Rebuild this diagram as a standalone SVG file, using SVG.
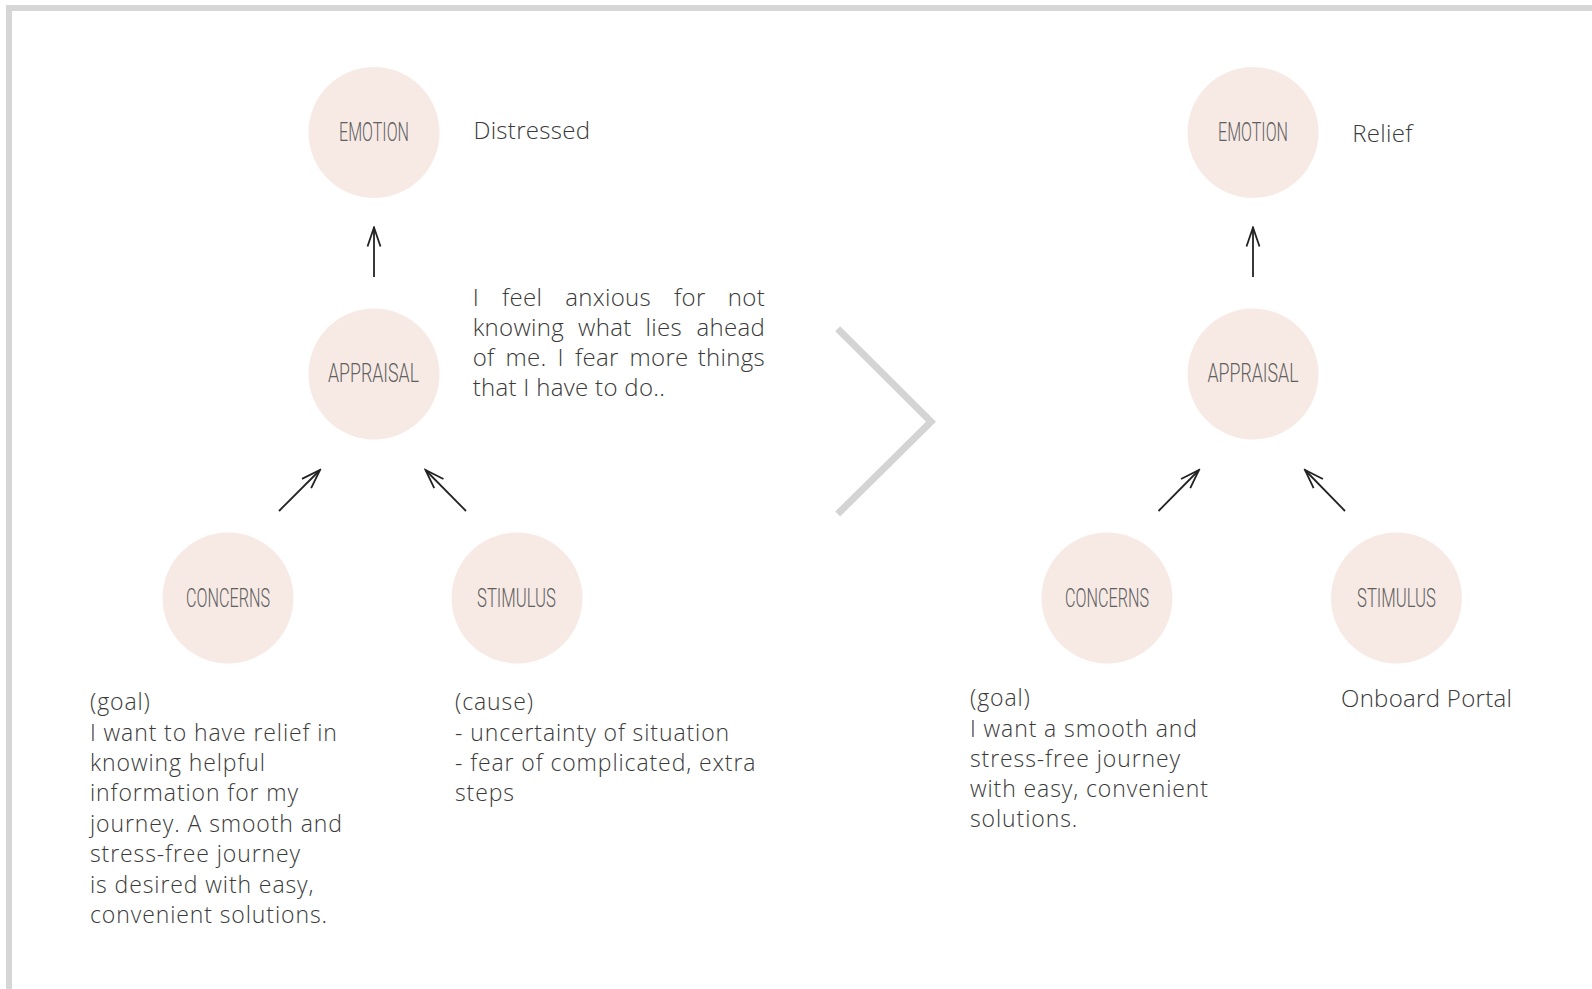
<svg xmlns="http://www.w3.org/2000/svg" width="1592" height="989" viewBox="0 0 1592 989">
  <style>
    .node { fill: #f7eae5; }
    .lbl { font-family: "Roboto", "Liberation Sans", sans-serif; font-weight: 300; font-size: 25px; fill: #606060; text-anchor: middle; }
    .body { font-family: "Open Sans", "Lato", "Liberation Sans", sans-serif; font-weight: 300; font-size: 23px; letter-spacing: 0.9px; fill: #3a3a3a; }
    .big { font-size: 24px; letter-spacing: 0.3px; }
    .end { text-anchor: end; }
    .conn { fill: none; stroke: #222; stroke-width: 1.8; marker-end: url(#head); }
  </style>
  <defs>
    <marker id="head" markerUnits="userSpaceOnUse" viewBox="-22 -9 24 18" markerWidth="24" markerHeight="18" refX="0" refY="0" orient="auto">
      <path d="M-19,-6.5 L0,0 L-19,6.5" fill="none" stroke="#222" stroke-width="1.8"/>
    </marker>
  </defs>

  <rect width="1592" height="989" fill="#ffffff"/>
  <!-- frame -->
  <path d="M9,1000 L9,8 L1600,8" fill="none" stroke="#d6d6d6" stroke-width="6"/>

  <!-- divider chevron -->
  <polyline points="837.7,328.7 931,421.7 837.7,514" fill="none" stroke="#d4d4d4" stroke-width="7" stroke-miterlimit="10"/>

  <!-- connectors -->
  <g id="connectors">
    <path class="conn" d="M374,277 L374,227.5"/>
    <path class="conn" d="M279,511 L320,470"/>
    <path class="conn" d="M466,511 L425.5,470"/>
    <path class="conn" d="M1253,277 L1253,227.5"/>
    <path class="conn" d="M1158.5,511 L1199,470"/>
    <path class="conn" d="M1345,511 L1305,470"/>
  </g>

  <!-- before -->
  <g id="emotion-before">
    <circle class="node" cx="374" cy="132.5" r="65.5"/>
    <text class="lbl" x="374" y="140.7" textLength="70" lengthAdjust="spacingAndGlyphs">EMOTION</text>
    <text class="body big" x="473.4" y="138.5">Distressed</text>
  </g>
  <g id="appraisal-before">
    <circle class="node" cx="374" cy="374" r="65.5"/>
    <text class="lbl" x="373.5" y="382" textLength="91" lengthAdjust="spacingAndGlyphs">APPRAISAL</text>
    <!-- justified paragraph: words chained with equal gaps, last word set flush right -->
    <text class="body big" x="472.7" y="306">I<tspan dx="23">feel</tspan><tspan dx="23">anxious</tspan><tspan dx="23">for</tspan></text>
    <text class="body big end" x="765" y="306">not</text>
    <text class="body big" x="472.7" y="336">knowing<tspan dx="14">what</tspan><tspan dx="14">lies</tspan></text>
    <text class="body big end" x="765" y="336">ahead</text>
    <text class="body big" x="472.7" y="366">of<tspan dx="11">me.</tspan><tspan dx="11">I</tspan><tspan dx="11">fear</tspan><tspan dx="11">more</tspan></text>
    <text class="body big end" x="765" y="366">things</text>
    <text class="body big" x="472.7" y="396">that I have to do..</text>
  </g>
  <g id="concerns-before">
    <circle class="node" cx="228" cy="598" r="65.5"/>
    <text class="lbl" x="228" y="606.5" textLength="84" lengthAdjust="spacingAndGlyphs">CONCERNS</text>
    <text class="body">
      <tspan x="90" y="710">(goal)</tspan>
      <tspan x="90" y="741">I want to have relief in</tspan>
      <tspan x="90" y="771">knowing helpful</tspan>
      <tspan x="90" y="801">information for my</tspan>
      <tspan x="90" y="831.5">journey. A smooth and</tspan>
      <tspan x="90" y="862">stress-free journey</tspan>
      <tspan x="90" y="892.5">is desired with easy,</tspan>
      <tspan x="90" y="922.5">convenient solutions.</tspan>
    </text>
  </g>
  <g id="stimulus-before">
    <circle class="node" cx="517" cy="598" r="65.5"/>
    <text class="lbl" x="516.5" y="606.5" textLength="79" lengthAdjust="spacingAndGlyphs">STIMULUS</text>
    <text class="body">
      <tspan x="455" y="710">(cause)</tspan>
      <tspan x="455" y="741">- uncertainty of situation</tspan>
      <tspan x="455" y="771">- fear of complicated, extra</tspan>
      <tspan x="455" y="801">steps</tspan>
    </text>
  </g>

  <!-- after -->
  <g id="emotion-after">
    <circle class="node" cx="1253" cy="132.5" r="65.5"/>
    <text class="lbl" x="1253" y="140.7" textLength="70" lengthAdjust="spacingAndGlyphs">EMOTION</text>
    <text class="body big" x="1352.3" y="141.7">Relief</text>
  </g>
  <g id="appraisal-after">
    <circle class="node" cx="1253" cy="374" r="65.5"/>
    <text class="lbl" x="1253" y="382" textLength="91" lengthAdjust="spacingAndGlyphs">APPRAISAL</text>
  </g>
  <g id="concerns-after">
    <circle class="node" cx="1107" cy="598" r="65.5"/>
    <text class="lbl" x="1107" y="606.5" textLength="84" lengthAdjust="spacingAndGlyphs">CONCERNS</text>
    <text class="body">
      <tspan x="970" y="706">(goal)</tspan>
      <tspan x="970" y="736.5">I want a smooth and</tspan>
      <tspan x="970" y="766.5">stress-free journey</tspan>
      <tspan x="970" y="797">with easy, convenient</tspan>
      <tspan x="970" y="827">solutions.</tspan>
    </text>
  </g>
  <g id="stimulus-after">
    <circle class="node" cx="1396.5" cy="598" r="65.5"/>
    <text class="lbl" x="1396.5" y="606.5" textLength="79" lengthAdjust="spacingAndGlyphs">STIMULUS</text>
    <text class="body big" x="1341" y="706.7">Onboard Portal</text>
  </g>
</svg>
